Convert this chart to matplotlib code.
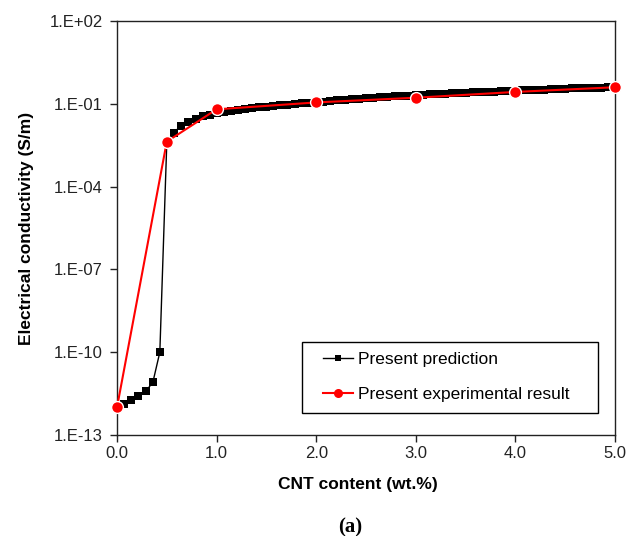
import matplotlib
matplotlib.use("Agg")
import matplotlib.pyplot as plt
from matplotlib.ticker import FixedLocator, FuncFormatter, NullLocator
from matplotlib.patches import Rectangle
import numpy as np

# ---- data ----
x_pred = [0.00, 0.07, 0.14, 0.21, 0.29, 0.36, 0.43, 0.50, 0.57, 0.64,
          0.71, 0.79, 0.86, 0.93, 1.00, 1.07, 1.14, 1.21, 1.29, 1.36,
          1.43, 1.50, 1.57, 1.64, 1.71, 1.79, 1.86, 1.93, 2.00, 2.07,
          2.14, 2.21, 2.29, 2.36, 2.43, 2.50, 2.57, 2.64, 2.71, 2.79,
          2.86, 2.93, 3.00, 3.07, 3.14, 3.21, 3.29, 3.36, 3.43, 3.50,
          3.57, 3.64, 3.71, 3.79, 3.86, 3.93, 4.00, 4.07, 4.14, 4.21,
          4.29, 4.36, 4.43, 4.50, 4.57, 4.64, 4.71, 4.79, 4.86, 4.93, 5.00]
log_pred = [-12.00, -11.88, -11.73, -11.59, -11.41, -11.09, -10.00, -2.40, -2.05, -1.80,
            -1.66, -1.55, -1.46, -1.39, -1.33, -1.29, -1.25, -1.22, -1.19, -1.16,
            -1.13, -1.10, -1.08, -1.05, -1.03, -1.00, -0.98, -0.96, -0.94, -0.92,
            -0.90, -0.88, -0.86, -0.84, -0.82, -0.80, -0.78, -0.765, -0.75, -0.73,
            -0.715, -0.70, -0.68, -0.67, -0.655, -0.645, -0.635, -0.62, -0.61, -0.60,
            -0.585, -0.575, -0.565, -0.555, -0.545, -0.535, -0.52, -0.51, -0.50, -0.495,
            -0.485, -0.475, -0.465, -0.455, -0.445, -0.44, -0.43, -0.42, -0.415, -0.405, -0.40]
x_exp = [0.0, 0.5, 1.0, 2.0, 3.0, 4.0, 5.0]
log_exp = [-12.0, -2.37, -1.20, -0.95, -0.78, -0.57, -0.40]

y_tick_exps = [2, -1, -4, -7, -10, -13]
x_ticks = [0.0, 1.0, 2.0, 3.0, 4.0, 5.0]

y_pred = [10.0 ** v for v in log_pred]
y_exp = [10.0 ** v for v in log_exp]

plt.rcParams['font.family'] = ['Liberation Sans', 'DejaVu Sans']

W, H = 627, 536
fig = plt.figure(figsize=(W / 100, H / 100), dpi=100)
L, R, T, B = 117, 615, 21, 435
ax = fig.add_axes([L / W, 1 - B / H, (R - L) / W, (B - T) / H])

ax.plot(x_pred, y_pred, color='black', lw=1.0, marker='s', markersize=5.6,
        markeredgewidth=0, label='Present prediction', zorder=2)
ax.plot(x_exp, y_exp, color='red', lw=1.5, marker='o', markersize=8.5,
        markeredgecolor='white', markeredgewidth=1.0,
        label='Present experimental result', zorder=3, clip_on=False)

ax.set_yscale('log')
ax.set_ylim(1e-13, 1e2)
ax.set_xlim(0, 5)
ax.yaxis.set_major_locator(FixedLocator([10.0 ** e for e in y_tick_exps]))
ax.yaxis.set_minor_locator(NullLocator())
ax.yaxis.set_major_formatter(FuncFormatter(
    lambda v, p: "1.E%+03d" % int(round(np.log10(v)))))
ax.set_xticks(x_ticks)
ax.set_xticklabels(["%.1f" % t for t in x_ticks])

ax.tick_params(direction='out', length=5, width=1, labelsize=12, colors='#222222')
ax.tick_params(axis='y', pad=5)
ax.tick_params(axis='x', pad=3)
for s in ax.spines.values():
    s.set_linewidth(1.0)
    s.set_color('#222222')

ax.set_xlabel('CNT content (wt.%)', fontsize=12.5, fontweight='bold')
ax.set_ylabel('Electrical conductivity (S/m)', fontsize=12.5, fontweight='bold')
ax.xaxis.set_label_coords((358 - L) / (R - L), (B - 477) / (B - T))
ax.yaxis.set_label_coords((34 - L) / (R - L), 0.5)

# legend frame
ax.add_patch(Rectangle(((302 - L) / (R - L), (B - 413) / (B - T)),
                       296 / (R - L), 71 / (B - T), transform=ax.transAxes,
                       facecolor='white', edgecolor='black', lw=1.0, zorder=4))
leg = ax.legend(loc='upper left', bbox_to_anchor=((323 - L) / (R - L), (B - 352) / (B - T)),
                fontsize=12.5, frameon=False, borderaxespad=0, borderpad=0,
                handlelength=1.75, handletextpad=0.25, labelspacing=1.15)
leg.set_zorder(5)
leg.legend_handles[0].set_markersize(3.8)
leg.legend_handles[1].set_markersize(6.5)
leg.legend_handles[1].set_markeredgewidth(0)

fig.text(350 / W, 1 - 527 / H, '(a)', fontsize=15, fontweight='bold',
         family=['Liberation Serif', 'DejaVu Serif'], ha='center', va='center')

fig.savefig('out.png', dpi=100)
